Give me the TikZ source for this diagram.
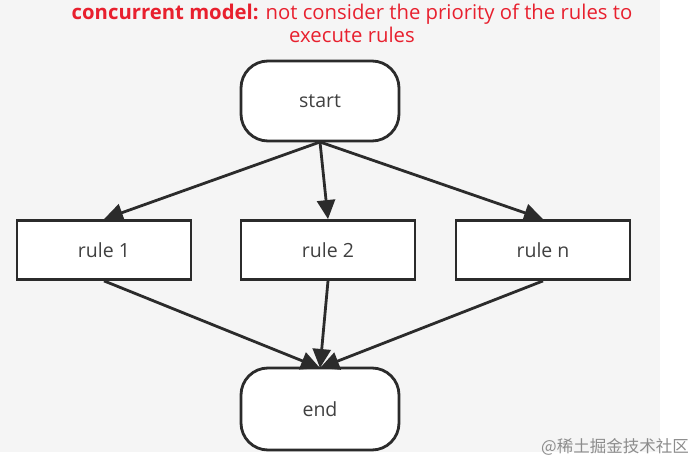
\documentclass[tikz,border=0pt]{standalone}
\usepackage{fontspec}
\setmainfont{Open Sans}
\newfontfamily\cjk{Noto Sans CJK SC}
\usetikzlibrary{arrows.meta}
\definecolor{bg}{HTML}{F5F5F5}
\definecolor{ink}{HTML}{2B2B2B}
\definecolor{titlered}{HTML}{E8202E}
\begin{document}
\begin{tikzpicture}[x=1pt,y=-1pt,
  box/.style={draw=ink,line width=2.8pt,fill=white,minimum width=174pt,minimum height=59pt,inner sep=0pt,font=\fontsize{19.5}{22}\selectfont,text=ink!90},
  term/.style={box,rounded corners=27pt,minimum width=158pt,minimum height=80pt},
  conn/.style={draw=ink,line width=2.8pt,-{Triangle[length=19pt,width=18pt]}}]
\useasboundingbox (0,0) rectangle (696,470);
\fill[white] (0,0) rectangle (696,470);
\fill[bg] (0,0) rectangle (660,452);
\node[text=titlered,font=\fontsize{20.3}{23}\selectfont,align=center,inner sep=0pt] (title) at (352,23)
  {\textbf{concurrent model:} not consider the priority of the rules to\\ execute rules};
\node[term] (start) at (320,101) {start};
\node[box] (r1) at (104,250) {rule 1};
\node[box] (r2) at (328,250) {rule 2};
\node[box] (rn) at (543,250) {rule n};
\node[term,minimum height=82pt] (end) at (320,409) {end};
\coordinate (s) at (320,142);
\coordinate (e) at (320,368);
\draw[conn] (s) -- (r1.north);
\draw[conn] (s) -- (r2.north);
\draw[conn] (s) -- (rn.north);
\draw[conn] (r1.south) -- (e);
\draw[conn] (r2.south) -- (e);
\draw[conn] (rn.south) -- (e);
\node[text=black!45,font=\cjk\fontsize{16.5}{18}\selectfont] (wm) at (615,447) {@稀土掘金技术社区};
\end{tikzpicture}
\end{document}
